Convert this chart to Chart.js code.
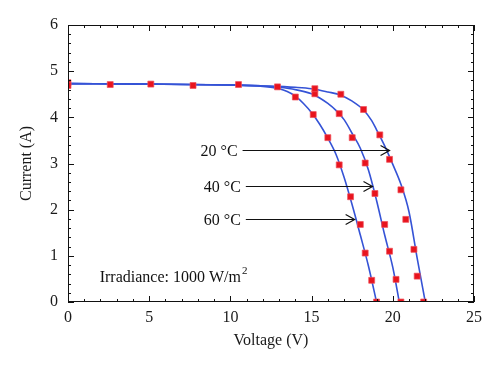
<!DOCTYPE html>
<html>
<head>
<meta charset="utf-8">
<script src="https://cdn.jsdelivr.net/npm/chart.js@4.4.1/dist/chart.umd.min.js"></script>
<style>
html, body { margin: 0; padding: 0; background: #fff; }
#wrap { width: 500px; height: 368px; }
</style>
</head>
<body>
<div id="wrap"><canvas id="ivChart"></canvas></div>
<script>
// DATA - fitted curves (voltage V, current A)
const curve20V = [0, 5, 10, 12, 14, 15, 16, 16.8, 17.5, 18.2, 18.7, 19.0, 19.5, 20.0, 20.5, 21.0, 21.5, 22.0];
const curve20I = [4.73, 4.72, 4.70, 4.68, 4.65, 4.62, 4.55, 4.48, 4.35, 4.16, 3.93, 3.73, 3.38, 2.98, 2.55, 1.95, 0.95, 0];
const curve40V = [0, 5, 10, 12, 13, 14, 15, 15.5, 16, 16.5, 17, 17.5, 18, 18.5, 19, 19.5, 20, 20.4];
const curve40I = [4.73, 4.72, 4.70, 4.68, 4.65, 4.60, 4.51, 4.42, 4.30, 4.15, 3.95, 3.65, 3.33, 2.86, 2.20, 1.45, 0.75, 0];
const curve60V = [0, 5, 10, 12, 13, 13.5, 14, 14.5, 15, 15.5, 16, 16.5, 17, 17.5, 18, 18.5, 19];
const curve60I = [4.73, 4.72, 4.70, 4.67, 4.62, 4.56, 4.46, 4.30, 4.10, 3.85, 3.55, 3.20, 2.70, 2.10, 1.45, 0.78, 0];

// measured points
const sharedV = [0, 0, 2.6, 5.1, 7.7, 10.5, 12.9];
const sharedI = [4.75, 4.69, 4.71, 4.72, 4.69, 4.71, 4.66];
const meas20V = [15.2, 16.8, 18.2, 19.2, 19.8, 20.5, 20.8, 21.3, 21.5, 21.9];
const meas20I = [4.62, 4.50, 4.17, 3.62, 3.09, 2.43, 1.79, 1.14, 0.56, 0];
const meas40V = [15.2, 16.7, 17.5, 18.3, 18.9, 19.5, 19.8, 20.2, 20.5];
const meas40I = [4.51, 4.08, 3.56, 3.01, 2.35, 1.68, 1.10, 0.49, 0];
const meas60V = [14.0, 15.1, 16.0, 16.7, 17.4, 18.0, 18.3, 18.7, 19.0];
const meas60I = [4.44, 4.06, 3.56, 2.97, 2.28, 1.68, 1.06, 0.47, 0];

// annotations
const tempLabels = ["20 °C", "40 °C", "60 °C"];
const arrowLevel = [3.29, 2.51, 1.80];
const arrowFrom = [10.75, 10.95, 10.95];
const arrowTo = [19.8, 18.75, 17.65];
const noteText = "Irradiance: 1000 W/m";
const noteSup = "2";
const noteV = 1.95, noteI = 0.52;

// AXES
const xMin = 0, xMax = 25, xMajor = 5, xMinor = 1;
const yMin = 0, yMax = 6, yMajor = 1, yMinor = 0.2;

const SERIF = "'Liberation Serif', 'DejaVu Serif', serif";
const BLUE = "#3553d6";
const RED = "#e8141e";

function pts(xs, ys) {
    return xs.map((x, i) => ({ x: x, y: ys[i] }));
}

function lineSet(xs, ys) {
    return {
        data: pts(xs, ys),
        showLine: true,
        borderColor: BLUE,
        borderWidth: 1.6,
        pointRadius: 0,
        cubicInterpolationMode: "monotone",
        order: 2
    };
}

function markSet(xs, ys) {
    return {
        data: pts(xs, ys),
        showLine: false,
        pointStyle: "rect",
        pointRadius: 4.2,
        backgroundColor: RED,
        borderColor: "rgba(240,80,90,0.7)",
        borderWidth: 1,
        order: 1
    };
}

// frame, inward ticks and text annotations
const decorPlugin = {
    id: "decor",
    afterDraw(chart) {
        const ctx = chart.ctx;
        const a = chart.chartArea;
        const xs = chart.scales.x, ys = chart.scales.y;
        ctx.save();
        ctx.strokeStyle = "#111";
        ctx.lineWidth = 1;
        ctx.strokeRect(a.left + 0.5, a.top + 0.5, a.right - a.left - 1, a.bottom - a.top - 1);

        ctx.beginPath();
        for (let i = 0; i * xMinor <= xMax - xMin + 1e-9; i++) {
            let v = xMin + i * xMinor;
            let px = Math.round(xs.getPixelForValue(v)) + 0.5;
            let len = (Math.abs(v / xMajor - Math.round(v / xMajor)) < 1e-6) ? 6 : 3;
            ctx.moveTo(px, a.bottom); ctx.lineTo(px, a.bottom - len);
            ctx.moveTo(px, a.top); ctx.lineTo(px, a.top + len);
        }
        for (let i = 0; i * yMinor <= yMax - yMin + 1e-9; i++) {
            let v = yMin + i * yMinor;
            let py = Math.round(ys.getPixelForValue(v)) + 0.5;
            let len = (Math.abs(v / yMajor - Math.round(v / yMajor)) < 1e-6) ? 6 : 3;
            ctx.moveTo(a.left, py); ctx.lineTo(a.left + len, py);
            ctx.moveTo(a.right, py); ctx.lineTo(a.right - len, py);
        }
        ctx.stroke();

        // temperature arrows
        ctx.fillStyle = "#111";
        ctx.font = "16px " + SERIF;
        ctx.textBaseline = "middle";
        ctx.lineWidth = 1.2;
        tempLabels.forEach((t, i) => {
            let y = Math.round(ys.getPixelForValue(arrowLevel[i])) + 0.5;
            let x0 = xs.getPixelForValue(arrowFrom[i]);
            let x1 = xs.getPixelForValue(arrowTo[i]);
            ctx.textAlign = "right";
            ctx.fillText(t, x0 - 5, y + 1);
            ctx.beginPath();
            ctx.moveTo(x0, y); ctx.lineTo(x1, y);
            ctx.moveTo(x1 - 9, y - 5); ctx.lineTo(x1, y); ctx.lineTo(x1 - 9, y + 5);
            ctx.stroke();
        });

        // irradiance note
        let nx = xs.getPixelForValue(noteV);
        let ny = ys.getPixelForValue(noteI);
        ctx.textAlign = "left";
        ctx.font = "16px " + SERIF;
        ctx.fillText(noteText, nx, ny);
        let w = ctx.measureText(noteText).width;
        ctx.font = "11px " + SERIF;
        ctx.fillText(noteSup, nx + w + 1, ny - 7);
        ctx.restore();
    }
};

new Chart(document.getElementById("ivChart"), {
    type: "scatter",
    data: {
        datasets: [
            markSet(sharedV, sharedI),
            markSet(meas20V, meas20I),
            markSet(meas40V, meas40I),
            markSet(meas60V, meas60I),
            lineSet(curve20V, curve20I),
            lineSet(curve40V, curve40I),
            lineSet(curve60V, curve60I)
        ]
    },
    options: {
        responsive: true,
        maintainAspectRatio: false,
        animation: false,
        layout: { padding: { left: 0, right: 26, top: 25, bottom: 0 } },
        plugins: {
            legend: { display: false },
            tooltip: { enabled: false }
        },
        scales: {
            x: {
                type: "linear",
                min: xMin, max: xMax,
                grid: { display: false, drawTicks: false },
                border: { display: false },
                ticks: { stepSize: xMajor, color: "#1a1a1a", padding: 6, font: { family: SERIF, size: 16 } },
                title: { display: true, text: "Voltage (V)", color: "#1a1a1a", font: { family: SERIF, size: 16 }, padding: { top: 0, bottom: 18 } },
                afterFit(scale) { scale.height = 66; }
            },
            y: {
                type: "linear",
                min: yMin, max: yMax,
                grid: { display: false, drawTicks: false },
                border: { display: false },
                ticks: { stepSize: yMajor, color: "#1a1a1a", padding: 10, font: { family: SERIF, size: 16 } },
                title: { display: true, text: "Current (A)", color: "#1a1a1a", font: { family: SERIF, size: 16 }, padding: { top: 17, bottom: 0 } },
                afterFit(scale) { scale.width = 68; }
            }
        }
    },
    plugins: [decorPlugin]
});
</script>
</body>
</html>
